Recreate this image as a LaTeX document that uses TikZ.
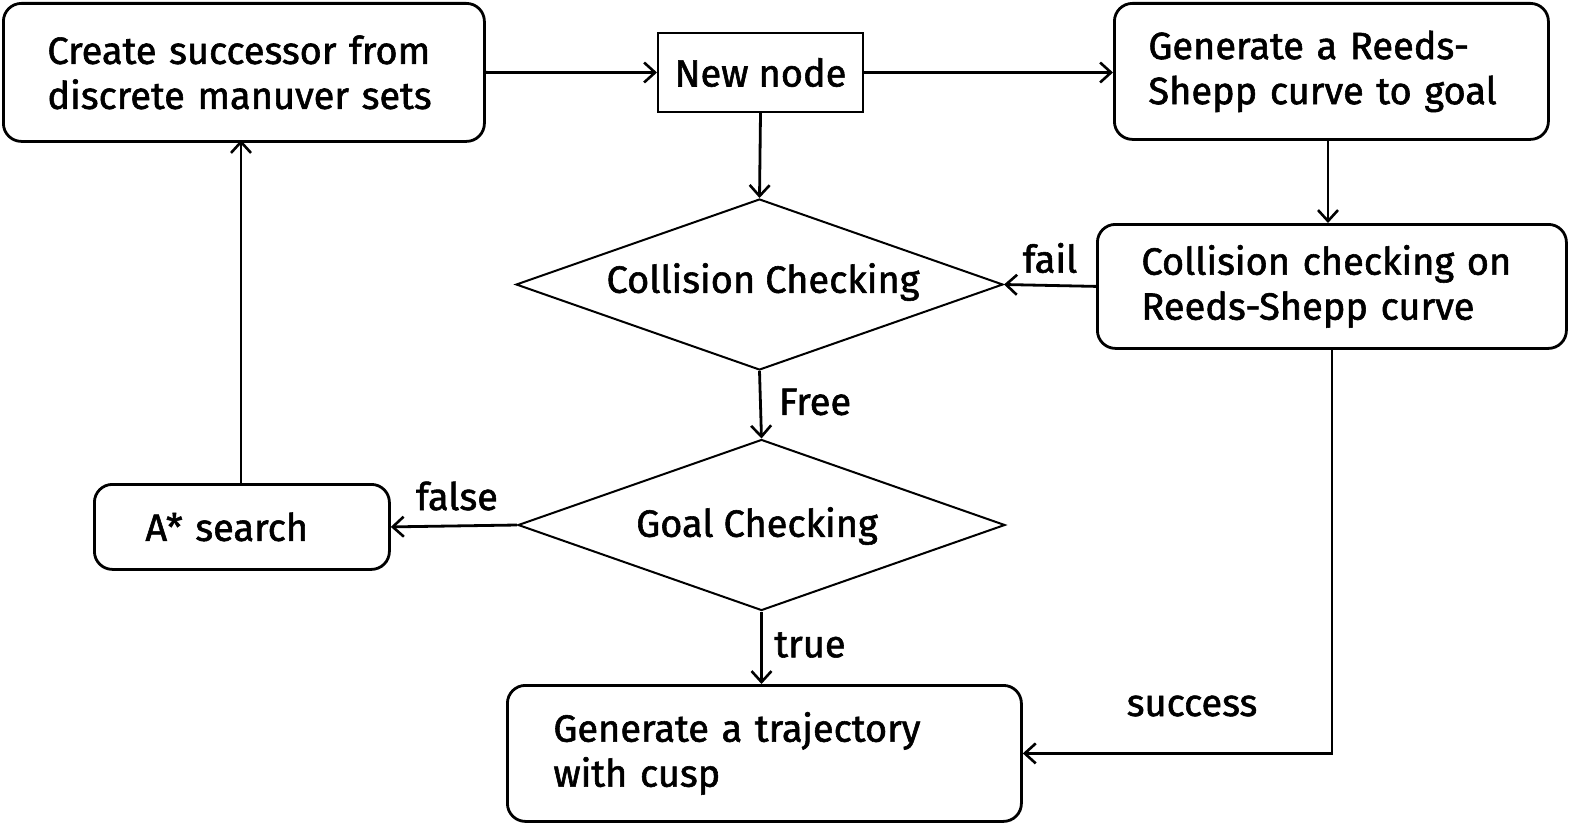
\documentclass[tikz,border=0pt]{standalone}
\usepackage{fontspec}
\setmainfont{Fira Sans}[FakeBold=1.5,AutoFakeBold=1.5]
\usetikzlibrary{shapes.geometric,arrows.meta,calc}
\begin{document}
\begin{tikzpicture}[x=1pt,y=-1pt,
  every node/.style={font=\fontsize{38}{45}\selectfont\bfseries},
  rbox/.style={draw,line width=2.8pt,rounded corners=18pt,align=left,anchor=north west,inner ysep=0pt},
  dia/.style={draw,line width=2pt,diamond,inner sep=0pt,minimum width=487pt,minimum height=171pt},
  conn/.style={line width=2.8pt,-{Straight Barb[length=11pt,width=20pt,line width=2.6pt]}},
  lbl/.style={inner sep=0pt}]
\useasboundingbox (0,0) rectangle (1570,824);
% boxes
\node[rbox,minimum width=481pt,minimum height=138pt,text width=393pt,inner xsep=44pt] (cs) at (2,2) {Create successor from\\discrete manuver sets};
\node[draw,line width=2pt,anchor=north west,minimum width=205pt,minimum height=79pt,inner sep=0pt] (nn) at (657,32) {New node};
\node[rbox,minimum width=434pt,minimum height=136pt,text width=366pt,inner xsep=34pt] (rs) at (1113,2) {Generate a Reeds-\\Shepp curve to goal};
\node[rbox,minimum width=469pt,minimum height=124pt,text width=381pt,inner xsep=44pt] (crs) at (1096,223) {Collision checking on\\Reeds-Shepp curve};
\node[dia] (cc) at (759.5,284.5) {};
\node at (763,282) {Collision Checking};
\node[dia] (gc) at (761.5,525) {};
\node at (757,526) {Goal Checking};
\node[rbox,minimum width=295pt,minimum height=85pt,text width=193pt,inner xsep=51pt] (as) at (93,483) {A* search};
\node[rbox,minimum width=514pt,minimum height=136pt,text width=422pt,inner xsep=46pt] (tr) at (506,684) {Generate a trajectory\\with cusp};
% connectors
\draw[conn] (cs.east) -- (nn.west);
\draw[conn] (nn.east) -- (rs.west |- nn.east);
\draw[conn] (nn.south) -- (cc.north);
\draw[conn] (rs.south -| 1328,0) -- (1328,223);
\draw[conn] (crs.west) -- (cc.east);
\draw[conn] (cc.south) -- (gc.north);
\draw[conn] (gc.west) -- (as.east);
\draw[conn] (as.north -| 241,0) -- (241,140);
\draw[conn] (gc.south) -- (tr.north -| gc.south);
\draw[conn] (crs.south) |- (tr.east);
% labels
\node[lbl] at (1050,258) {fail};
\node[lbl] at (815,402) {Free};
\node[lbl] at (457,496) {false};
\node[lbl] at (810,645) {true};
\node[lbl] at (1192,706) {success};
\end{tikzpicture}
\end{document}
